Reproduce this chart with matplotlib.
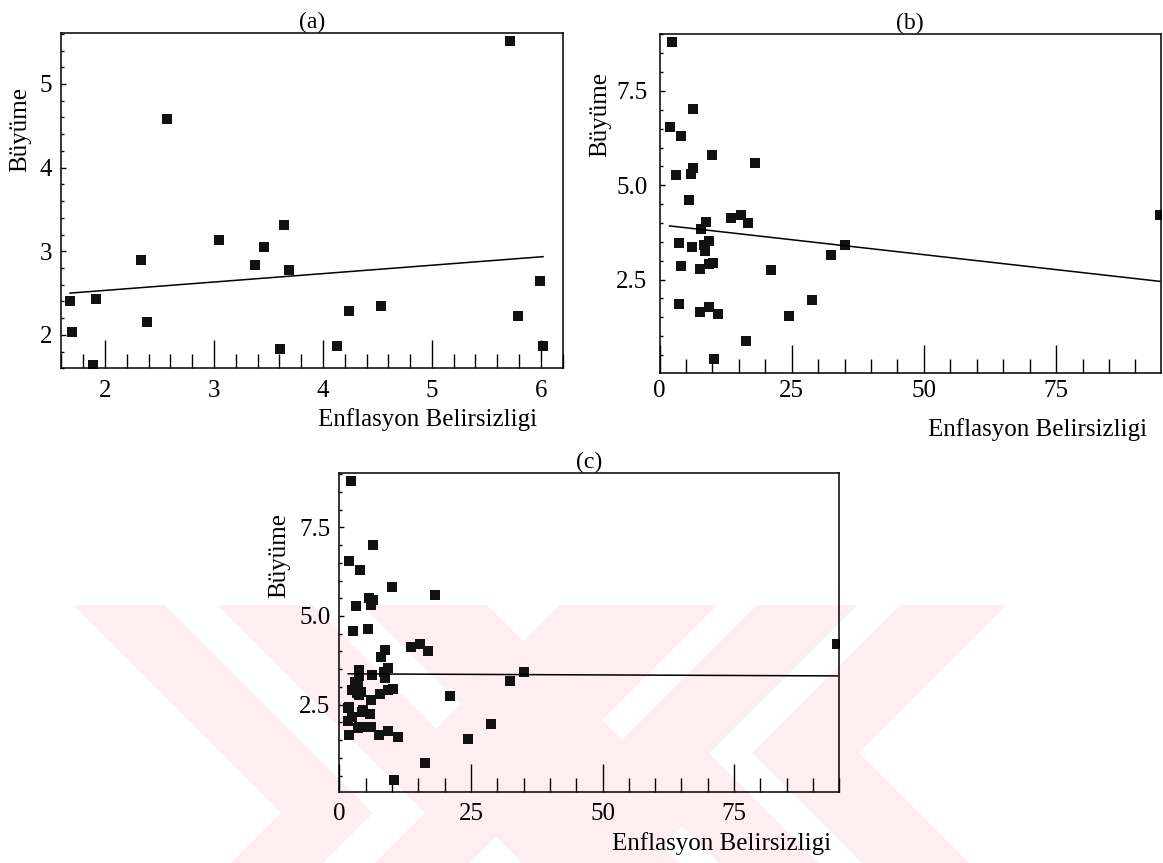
import numpy as np
import matplotlib.pyplot as plt
from matplotlib.patches import Polygon
from matplotlib.ticker import MultipleLocator

plt.rcParams['font.family'] = ['Liberation Serif', 'DejaVu Serif']

# (a) sample
a_x = [1.68, 1.70, 1.89, 1.92, 2.33, 2.39, 2.57, 3.05, 3.38, 3.46,
       3.64, 3.69, 3.61, 4.13, 4.24, 4.53, 5.72, 5.79, 5.99, 6.02]
a_y = [2.41, 2.03, 1.64, 2.43, 2.90, 2.15, 4.58, 3.14, 2.83, 3.05,
       3.31, 2.77, 1.83, 1.87, 2.28, 2.35, 5.51, 2.23, 2.64, 1.87]

# (b) sample
b_x = [2.3, 1.9, 6.4, 4.0, 10.0, 18.1, 3.2, 6.0, 6.4, 5.5,
       13.6, 15.4, 16.8, 8.7, 7.9, 3.7, 6.2, 8.4, 9.3, 8.6,
       35.0, 32.4, 4.1, 7.7, 9.3, 10.2, 21.0, 28.9, 3.7, 7.6,
       9.3, 11.1, 24.4, 16.3, 10.3, 94.6]
b_y = [8.80, 6.55, 7.01, 6.30, 5.81, 5.60, 5.27, 5.31, 5.46, 4.62,
       4.12, 4.20, 4.00, 4.03, 3.83, 3.47, 3.35, 3.41, 3.52, 3.26,
       3.41, 3.16, 2.85, 2.79, 2.90, 2.95, 2.75, 1.95, 1.86, 1.64,
       1.76, 1.60, 1.54, 0.87, 0.39, 4.20]

# (c) is both samples together
c_x = a_x + b_x
c_y = a_y + b_y

xlabel = 'Enflasyon Belirsizligi'
ylabel = 'Büyüme'

W, H = 1163, 863
fig = plt.figure(figsize=(W / 100, H / 100), dpi=100)

# faint pink watermark in the lower half (pixel coordinates)
bg = fig.add_axes([0, 0, 1, 1], zorder=-5)
bg.set_xlim(0, W)
bg.set_ylim(H, 0)
bg.axis('off')
pink = '#fdeef1'
y0, y1 = 605, 863


def right_chev(x_top, w, yc):
    xa = x_top + (yc - y0)
    return [(x_top, y0), (x_top + w, y0), (xa + w, yc),
            (xa + w - (y1 - yc), y1), (xa - (y1 - yc), y1), (xa, yc)]


def left_chev(x_top, w, yc):
    xa = x_top - (yc - y0)
    return [(x_top, y0), (x_top + w, y0), (xa + w, yc),
            (xa + w + (y1 - yc), y1), (xa + (y1 - yc), y1), (xa, yc)]


for xt, w in [(73, 92), (217, 95), (362, 125)]:
    bg.add_patch(Polygon(right_chev(xt, w, 813), closed=True, color=pink, lw=0))
for xt, w in [(560, 157), (757, 100), (900, 107)]:
    bg.add_patch(Polygon(left_chev(xt, w, 753), closed=True, color=pink, lw=0))

fs = 18


def panel(rect, xs, ys, title, xlim, ylim, xmaj, xmin_, ymaj, ymin_,
          xpad, ypad, ylab_pos, xlab_pos):
    ax = fig.add_axes(rect)
    ax.set_facecolor('none')
    ax.plot(xs, ys, 's', color='#111111', ms=7.5, mew=0)
    k, b = np.polyfit(xs, ys, 1)
    lx = np.array([min(xs), max(xs)])
    ax.plot(lx, k * lx + b, color='black', lw=1.1)
    ax.set_xlim(*xlim)
    ax.set_ylim(*ylim)
    ax.xaxis.set_major_locator(MultipleLocator(xmaj))
    ax.xaxis.set_minor_locator(MultipleLocator(xmin_))
    ax.yaxis.set_major_locator(MultipleLocator(ymaj))
    ax.yaxis.set_minor_locator(MultipleLocator(ymin_))
    ax.tick_params(axis='x', which='major', direction='in', length=20,
                   width=1.0, pad=xpad, labelsize=fs)
    ax.tick_params(axis='x', which='minor', direction='in', length=10, width=1.0)
    ax.tick_params(axis='y', which='major', direction='in', length=3.5,
                   width=1.0, pad=ypad, labelsize=fs)
    ax.tick_params(axis='y', which='minor', direction='in', length=2.5, width=1.0)
    for s in ax.spines.values():
        s.set_linewidth(1.1)
    ax.set_title(title, fontsize=17, pad=2)
    ax.text(*ylab_pos, ylabel, transform=ax.transAxes, rotation=90,
            ha='center', va='center', fontsize=fs)
    ax.text(*xlab_pos, xlabel, transform=ax.transAxes,
            ha='center', va='center', fontsize=fs)
    return ax


panel([0.0528, 0.5732, 0.4310, 0.3882], a_x, a_y, '(a)',
      (1.6, 6.2), (1.6, 5.606), 1, 0.2, 1, 0.2, 8.6, 6.5,
      (-0.083, 0.714), (0.731, -0.154))
panel([0.5671, 0.5681, 0.4310, 0.3921], b_x, b_y, '(b)',
      (0, 94.8), (0.03, 9.0), 25, 5, 2.5, 0.5, 5.3, 8.6,
      (-0.119, 0.762), (0.755, -0.169))
panel([0.2918, 0.0819, 0.4299, 0.3696], c_x, c_y, '(c)',
      (0, 95.0), (0.03, 9.02), 25, 5, 2.5, 0.5, 8.0, 6.5,
      (-0.121, 0.744), (0.765, -0.159))

fig.savefig('out.png', dpi=100)
